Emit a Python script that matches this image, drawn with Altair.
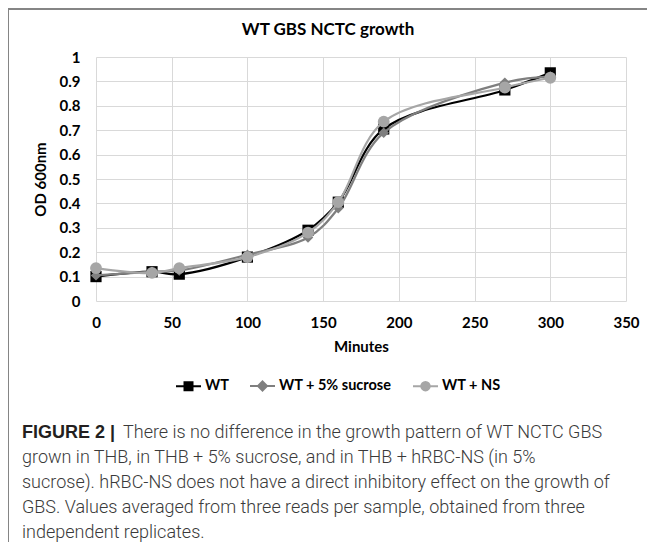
import altair as alt
import pandas as pd

# ---------------- data ----------------
minutes = [0, 37, 55, 100, 140, 160, 190, 270, 300]
wt = [0.10, 0.12, 0.11, 0.18, 0.29, 0.405, 0.705, 0.865, 0.935]
wt_sucrose = [0.105, 0.12, 0.125, 0.19, 0.26, 0.38, 0.69, 0.895, 0.92]
wt_ns = [0.135, 0.115, 0.135, 0.18, 0.28, 0.405, 0.735, 0.875, 0.915]

series_names = ["WT", "WT + 5% sucrose", "WT + NS"]
series_values = [wt, wt_sucrose, wt_ns]
series_colors = ["#000000", "#7f7f7f", "#a6a6a6"]
marker_shapes = ["square", "diamond", "circle"]
marker_sizes = [125, 110, 140]

x_ticks = [0, 50, 100, 150, 200, 250, 300, 350]
y_ticks = [0, 0.1, 0.2, 0.3, 0.4, 0.5, 0.6, 0.7, 0.8, 0.9, 1]

title_text = "WT GBS NCTC growth"
x_title = "Minutes"
y_title = "OD 600nm"

caption_bold = "FIGURE 2 |"
caption_lines = [
    "There is no difference in the growth pattern of WT NCTC GBS",
    "grown in THB, in THB + 5% sucrose, and in THB + hRBC-NS (in 5%",
    "sucrose). hRBC-NS does not have a direct inhibitory effect on the growth of",
    "GBS. Values averaged from three reads per sample, obtained from three",
    "independent replicates.",
]

rows = []
for name, vals in zip(series_names, series_values):
    for m, v in zip(minutes, vals):
        rows.append({"Minutes": m, "OD": v, "Series": name})
df = pd.DataFrame(rows)

# ---------------- chart ----------------
W, H = 530, 244
PAD_L, PAD_T, PAD_R, PAD_B = 88, 49, 21, 241
OX, OY = PAD_L + 8, PAD_T + 8  # plot origin in page pixels

x_enc = alt.X(
    "Minutes:Q",
    scale=alt.Scale(domain=[0, 350], nice=False),
    axis=alt.Axis(values=x_ticks, title=x_title, labelPadding=14, titlePadding=9,
                  labelFlush=False, labelOverlap=False),
)
y_enc = alt.Y(
    "OD:Q",
    scale=alt.Scale(domain=[0, 1], nice=False),
    axis=alt.Axis(values=y_ticks, format=".1~f", title=y_title, labelPadding=16,
                  titlePadding=11, labelFlush=False, labelOverlap=False),
)

base = alt.Chart(df)
layers = []
for name, color, shape, size in zip(series_names, series_colors, marker_shapes, marker_sizes):
    sub = base.transform_filter(alt.datum.Series == name)
    layers.append(
        sub.mark_line(color=color, strokeWidth=2.25, interpolate="catmull-rom").encode(x=x_enc, y=y_enc)
    )
    layers.append(
        sub.mark_point(shape=shape, filled=True, size=size, color=color, opacity=1).encode(x=x_enc, y=y_enc)
    )

# legend: line + marker symbols as custom paths
legend_paths = [
    "M-1,0H1M-0.32,-0.32H0.32V0.32H-0.32Z",
    "M-1,0H1M0,-0.36L0.36,0L0,0.36L-0.36,0Z",
    "M-1,0H1M-0.34,0A0.34,0.34 0 1,0 0.34,0A0.34,0.34 0 1,0 -0.34,0Z",
]
leg = dict(
    title=None, orient="none", direction="horizontal", legendX=79, legendY=315.5,
    symbolSize=625, symbolStrokeWidth=2, labelOffset=3, columnPadding=17, padding=0,
    labelFont="Lato", labelFontSize=14.5, labelFontWeight="bold", labelColor="#000000",
)
legend_layer = base.transform_filter("false").mark_point(filled=True, opacity=1, strokeWidth=2).encode(
    fill=alt.Fill("Series:N", scale=alt.Scale(domain=series_names, range=series_colors), legend=alt.Legend(**leg)),
    stroke=alt.Stroke("Series:N", scale=alt.Scale(domain=series_names, range=series_colors), legend=alt.Legend(**leg)),
    shape=alt.Shape("Series:N", scale=alt.Scale(domain=series_names, range=legend_paths), legend=alt.Legend(**leg)),
)
layers.append(legend_layer)

one = pd.DataFrame({"a": [0]})
# frame around figure
frame_color = "#858585"
layers.append(alt.Chart(one).mark_rule(color=frame_color, strokeWidth=2).encode(
    x=alt.value(-88), x2=alt.value(W + PAD_R), y=alt.value(-48)))
layers.append(alt.Chart(one).mark_rule(color=frame_color, strokeWidth=2).encode(
    x=alt.value(-88), y=alt.value(-48), y2=alt.value(H + PAD_B)))

# chart title
layers.append(alt.Chart(one).mark_text(
    align="center", baseline="middle", font="Lato", fontSize=17, fontWeight="bold", color="#000000"
).encode(x=alt.value(328 - OX), y=alt.value(30 - OY), text=alt.value(title_text)))

# caption
cap_x = 22 - OX
cap_y0 = 433 - OY
cap_step = 25
cap_color = "#3a3a3a"
layers.append(alt.Chart(one).mark_text(
    align="left", baseline="middle", font="Liberation Sans", fontSize=18, fontWeight="bold", color="#231f20"
).encode(x=alt.value(cap_x), y=alt.value(cap_y0), text=alt.value(caption_bold)))
for i, line in enumerate(caption_lines):
    xx = 123 - OX if i == 0 else cap_x
    layers.append(alt.Chart(one).mark_text(
        align="left", baseline="middle", font="Roboto", fontSize=18, fontWeight=300, color=cap_color
    ).encode(x=alt.value(xx), y=alt.value(cap_y0 + i * cap_step), text=alt.value(line)))

chart = alt.layer(*layers).properties(
    width=W,
    height=H,
    autosize=alt.AutoSizeParams(type="none"),
    padding={"left": PAD_L, "top": PAD_T, "right": PAD_R, "bottom": PAD_B},
).configure_view(stroke=None).configure_axis(
    grid=True, gridColor="#d9d9d9", gridWidth=1, domain=False, ticks=False,
    labelOverlap=False, labelSeparation=0, labelFlush=False,
    labelFont="Lato", labelFontSize=15, labelFontWeight="bold", labelColor="#000000",
    titleFont="Lato", titleFontSize=15, titleFontWeight="bold", titleColor="#000000",
)

chart.save("out.html", embed_options={"renderer": "svg", "actions": False})
